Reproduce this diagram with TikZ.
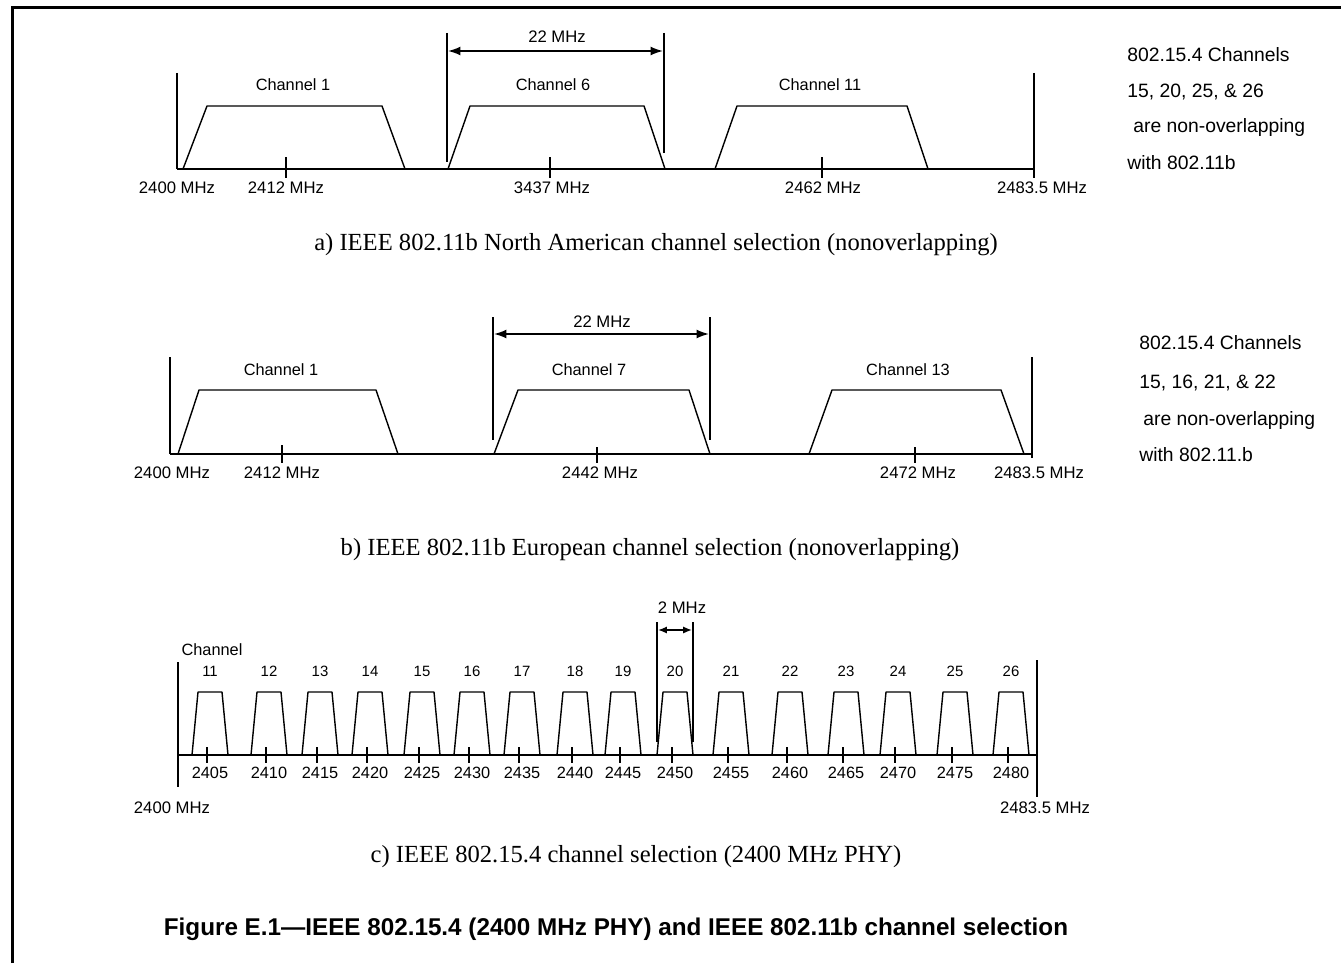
\documentclass[tikz,border=0pt]{standalone}
\usepackage{fontspec}
\setmainfont{Liberation Serif}
\setsansfont{Liberation Sans}
\usetikzlibrary{arrows.meta}

\begin{document}
\begin{tikzpicture}[
    % 以像素为单位，y 轴向下
    x=0.02cm,
    y=-0.02cm,
    >={Latex[length=7pt,width=5pt]},
    axis/.style={line width=1.4pt},
    bar/.style={line width=1.5pt},
    band/.style={line width=0.8pt, line join=round},
    tick/.style={line width=1.1pt},
    lbl/.style={font=\sffamily\fontsize{9.5}{11}\selectfont, inner sep=0pt},
    chlbl/.style={font=\sffamily\fontsize{9.3}{11}\selectfont, inner sep=0pt},
    num/.style={font=\sffamily\fontsize{8.5}{10}\selectfont, inner sep=0pt},
    note/.style={font=\sffamily\fontsize{11}{13}\selectfont, anchor=west, inner sep=0pt},
    subcap/.style={font=\fontsize{14}{16}\selectfont, inner sep=0pt},
  ]
  \useasboundingbox (0,0) rectangle (1341,963);

  % 外框（右侧和下侧被裁掉）
  \draw[line width=1.7pt] (12.5,963) -- (12.5,7.5) -- (1341,7.5);

  % ---------- a) 北美信道 ----------
  \draw[axis] (177,169) -- (1034,169);
  \draw[bar] (177,73) -- (177,169);
  \draw[bar] (1034,73) -- (1034,178);
  \foreach \bl/\tl/\tr/\br in {183/207/382/405, 448/470/644/665, 715/737/907/928}
    \draw[band] (\bl,169) -- (\tl,106) -- (\tr,106) -- (\br,169);
  \draw[tick] (286,157) -- (286,178);
  \draw[tick] (550,157) -- (550,178);
  \draw[tick,line width=0.7pt] (822,157) -- (822,178);

  \node[chlbl] (aC1) at (293,85) {Channel 1};
  \node[chlbl] (aC6) at (553,85) {Channel 6};
  \node[chlbl] (aC11) at (820,85) {Channel 11};

  \node[lbl] (aF0) at (177,188) {2400 MHz};
  \node[lbl] (aF1) at (286,188) {2412 MHz};
  \node[lbl] (aF6) at (552,188) {3437 MHz};
  \node[lbl] (aF11) at (823,188) {2462 MHz};
  \node[lbl] (aF2) at (1042,188) {2483.5 MHz};

  % 22 MHz 宽度标注
  \draw[bar] (447,33) -- (447,162);
  \draw[bar] (664,33) -- (664,153);
  \coordinate (aL) at (448,51);
  \coordinate (aR) at (663,51);
  \draw[<->,line width=0.9pt] (aL) -- (aR);
  \node[lbl] (aW) at (557,37) {22 MHz};

  \node[note] (aN1) at (1127,55) {802.15.4 Channels};
  \node[note] (aN2) at (1127,92) {15, 20, 25, \& 26};
  \node[note] (aN3) at (1133,128) {are non-overlapping};
  \node[note] (aN4) at (1127,163) {with 802.11b};

  \node[subcap] (aCap) at (656,245) {a) IEEE 802.11b North American channel selection (nonoverlapping)};

  % ---------- b) 欧洲信道 ----------
  \draw[axis] (170,454) -- (1032,454);
  \draw[bar] (170,357) -- (170,454);
  \draw[bar] (1032,357) -- (1032,458);
  \foreach \bl/\tl/\tr/\br in {178/199/376/398, 494/518/689/710, 809/832/1001/1024}
    \draw[band] (\bl,454) -- (\tl,390) -- (\tr,390) -- (\br,454);
  \draw[tick,line width=1.4pt] (282,445) -- (282,463);
  \draw[tick,line width=0.7pt] (597,447) -- (597,463);
  \draw[tick,line width=0.7pt] (915,447) -- (915,463);

  \node[chlbl] (bC1) at (281,370) {Channel 1};
  \node[chlbl] (bC7) at (589,370) {Channel 7};
  \node[chlbl] (bC13) at (908,370) {Channel 13};

  \node[lbl] (bF0) at (172,473) {2400 MHz};
  \node[lbl] (bF1) at (282,473) {2412 MHz};
  \node[lbl] (bF7) at (600,473) {2442 MHz};
  \node[lbl] (bF13) at (918,473) {2472 MHz};
  \node[lbl] (bF2) at (1039,473) {2483.5 MHz};

  \draw[bar] (493,317) -- (493,440);
  \draw[bar] (710,317) -- (710,440);
  \coordinate (bL) at (494,334);
  \coordinate (bR) at (709,334);
  \draw[<->,line width=0.9pt] (bL) -- (bR);
  \node[lbl] (bW) at (602,322) {22 MHz};

  \node[note] (bN1) at (1139,343) {802.15.4 Channels};
  \node[note] (bN2) at (1139,383) {15, 16, 21, \& 22};
  \node[note] (bN3) at (1143,420) {are non-overlapping};
  \node[note] (bN4) at (1139,455) {with 802.11.b};

  \node[subcap] (bCap) at (650,550) {b) IEEE 802.11b European channel selection (nonoverlapping)};

  % ---------- c) 802.15.4 信道 ----------
  \draw[axis] (178,755) -- (1037,755);
  \draw[bar] (178,662) -- (178,787);
  \draw[line width=1.2pt] (1037,660) -- (1037,797);
  \foreach \t [count=\i] in {207,266,317,367,419,469,519,572,620,672,728,787,843,895,952,1008} {
    \pgfmathtruncatemacro\ch{10+\i}
    \pgfmathtruncatemacro\fq{2400+5*\i}
    \draw[band] (\t-15,755) -- (\t-9,692) -- (\t+15,692) -- (\t+21,755);
    \draw[tick] (\t,747) -- (\t,763);
    \node[num] (c\i) at (\t+3,671) {\ch};
    \node[chlbl] (f\i) at (\t+3,773) {\fq};
  }
  \node[chlbl] (cCh) at (212,650) {Channel};

  \node[lbl] (cF0) at (172,808) {2400 MHz};
  \node[lbl] (cF2) at (1045,808) {2483.5 MHz};

  % 2 MHz 间隔
  \draw[line width=1pt] (657,622) -- (657,742);
  \draw[bar] (693,622) -- (693,742);
  \coordinate (cL) at (658,630);
  \coordinate (cR) at (692,630);
  \draw[{Latex[length=5pt,width=4pt]}-{Latex[length=5pt,width=4pt]},line width=0.9pt] (cL) -- (cR);
  \node[lbl] (cW) at (682,608) {2 MHz};

  \node[subcap] (cCap) at (636,857) {c) IEEE 802.15.4 channel selection (2400 MHz PHY)};

  % 图题
  \node[font=\sffamily\bfseries\fontsize{13.8}{16}\selectfont, inner sep=0pt] (fig) at (616,929)
    {Figure E.1---IEEE 802.15.4 (2400 MHz PHY) and IEEE 802.11b channel selection};
\end{tikzpicture}
\end{document}
